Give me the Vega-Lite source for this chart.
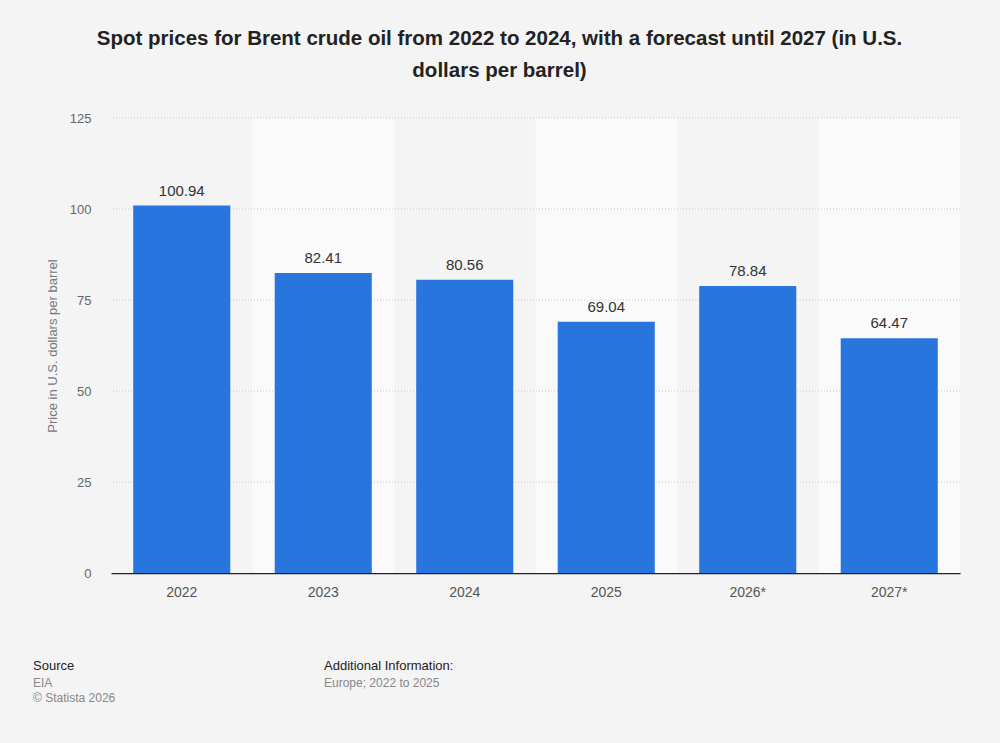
{
  "$schema": "https://vega.github.io/schema/vega-lite/v6.json",
  "width": 849,
  "height": 455,
  "autosize": "none",
  "padding": {"left": 111, "top": 118, "right": 40, "bottom": 170},
  "background": "#f4f4f4",
  "config": {
    "view": {"stroke": null},
    "font": "Liberation Sans"
  },
  "title": {
    "text": ["Spot prices for Brent crude oil from 2022 to 2024, with a forecast until 2027 (in U.S.", "dollars per barrel)"],
    "fontSize": 20.5,
    "fontWeight": "bold",
    "color": "#222222",
    "lineHeight": 32,
    "anchor": "middle",
    "dx": -36,
    "offset": 31
  },
  "datasets": {
    "prices": [
      {"year": "2022", "price": 100.94},
      {"year": "2023", "price": 82.41},
      {"year": "2024", "price": 80.56},
      {"year": "2025", "price": 69.04},
      {"year": "2026*", "price": 78.84},
      {"year": "2027*", "price": 64.47}
    ],
    "grid": [{"v": 25}, {"v": 50}, {"v": 75}, {"v": 100}, {"v": 125}],
    "footer": [
      {"t": "Source", "col": "a", "kind": "head"},
      {"t": ["EIA", "© Statista 2026"], "col": "a", "kind": "body"},
      {"t": "Additional Information:", "col": "b", "kind": "head"},
      {"t": ["Europe; 2022 to 2025"], "col": "b", "kind": "body"}
    ]
  },
  "layer": [
    {
      "data": {"name": "prices"},
      "mark": {"type": "bar", "width": {"band": 1}},
      "encoding": {
        "x": {"field": "year", "type": "nominal", "sort": null,
              "scale": {"paddingInner": 0, "paddingOuter": 0}, "axis": null},
        "y": {"datum": 125, "type": "quantitative", "scale": {"domain": [0, 125], "nice": false}},
        "y2": {"datum": 0},
        "color": {
          "condition": {"test": "indexof(['2023','2025','2027*'], datum.year) >= 0", "value": "#fafafa"},
          "value": "#f4f4f4"
        }
      }
    },
    {
      "data": {"name": "grid"},
      "mark": {"type": "rule", "color": "#c8c8c8", "strokeDash": [1, 2], "strokeWidth": 1},
      "encoding": {
        "y": {"field": "v", "type": "quantitative"}
      }
    },
    {
      "data": {"name": "prices"},
      "layer": [
        {
          "mark": {"type": "bar", "color": "#2876dd"},
          "encoding": {
            "x": {"field": "year", "type": "nominal", "sort": null,
                  "scale": {"paddingInner": 0.314, "paddingOuter": 0.157},
                  "axis": {"title": null, "labelAngle": 0, "labelFontSize": 14, "labelColor": "#555555",
                           "labelPadding": 12, "ticks": false, "domainColor": "#222222", "domainWidth": 1.5}},
            "y": {"field": "price", "type": "quantitative",
                  "scale": {"domain": [0, 125], "nice": false},
                  "axis": {"title": "Price in U.S. dollars per barrel", "titleFontSize": 13, "titleFontWeight": "normal",
                           "titleColor": "#777777", "titlePadding": 10, "values": [0, 25, 50, 75, 100, 125],
                           "labelFontSize": 13, "labelColor": "#666666", "labelPadding": 20,
                           "ticks": false, "domain": false, "grid": false}}
          }
        },
        {
          "mark": {"type": "text", "fontSize": 15, "color": "#333333", "baseline": "bottom", "dy": -7},
          "encoding": {
            "x": {"field": "year", "type": "nominal", "sort": null},
            "y": {"field": "price", "type": "quantitative"},
            "text": {"field": "price", "type": "quantitative", "format": ".2f"}
          }
        }
      ]
    },
    {
      "data": {"name": "footer"},
      "transform": [{"filter": "datum.kind === 'head' && datum.col === 'a'"}],
      "mark": {"type": "text", "align": "left", "baseline": "middle", "fontSize": 13, "color": "#222222"},
      "encoding": {"x": {"value": -78}, "y": {"value": 548}, "text": {"field": "t"}}
    },
    {
      "data": {"name": "footer"},
      "transform": [{"filter": "datum.kind === 'head' && datum.col === 'b'"}],
      "mark": {"type": "text", "align": "left", "baseline": "middle", "fontSize": 13, "color": "#222222"},
      "encoding": {"x": {"value": 213}, "y": {"value": 548}, "text": {"field": "t"}}
    },
    {
      "data": {"name": "footer"},
      "transform": [{"filter": "datum.kind === 'body' && datum.col === 'a'"}],
      "mark": {"type": "text", "align": "left", "baseline": "middle", "fontSize": 12, "color": "#888888", "lineHeight": 15},
      "encoding": {"x": {"value": -78}, "y": {"value": 565}, "text": {"field": "t"}}
    },
    {
      "data": {"name": "footer"},
      "transform": [{"filter": "datum.kind === 'body' && datum.col === 'b'"}],
      "mark": {"type": "text", "align": "left", "baseline": "middle", "fontSize": 12, "color": "#888888", "lineHeight": 15},
      "encoding": {"x": {"value": 213}, "y": {"value": 565}, "text": {"field": "t"}}
    }
  ],
  "resolve": {"scale": {"x": "independent"}}
}
